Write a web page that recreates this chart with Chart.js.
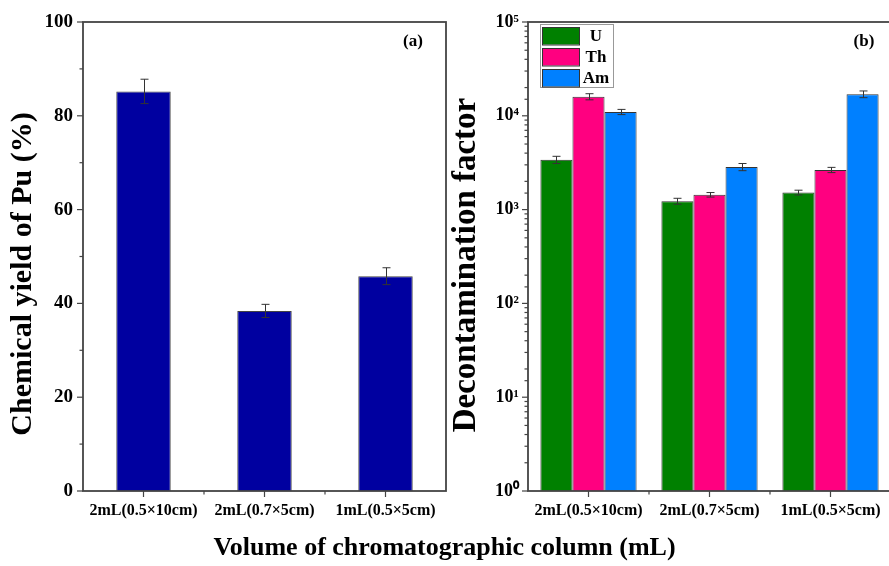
<!DOCTYPE html>
<html>
<head>
<meta charset="utf-8">
<script src="https://cdn.jsdelivr.net/npm/chart.js@4.4.1/dist/chart.umd.min.js"></script>
<style>
  html, body { margin: 0; padding: 0; background: #fff; overflow: hidden; }
  body { width: 889px; height: 566px; position: relative; }
  #left { position: absolute; left: 0; top: 0; }
  #right { position: absolute; left: 440px; top: 0; }
  #xtitle {
    position: absolute; left: 0; width: 889px; top: 532px; text-align: center;
    font: bold 26px "Liberation Serif", "Times New Roman", serif; color: #000;
  }
</style>
</head>
<body>
<canvas id="left" width="450" height="566"></canvas>
<canvas id="right" width="455" height="566"></canvas>
<div id="xtitle">Volume of chromatographic column (mL)</div>
<script>
const categories = ['2mL(0.5×10cm)', '2mL(0.7×5cm)', '1mL(0.5×5cm)'];

// panel (a): chemical yield of Pu (%)
const yieldPu = [85.2, 38.4, 45.8];
const yieldPuErr = [2.6, 1.4, 1.8];

// panel (b): decontamination factors
const dfU = [3400, 1230, 1520];
const dfUErr = [300, 90, 90];
const dfTh = [16000, 1440, 2650];
const dfThErr = [1200, 80, 170];
const dfAm = [11000, 2850, 17000];
const dfAmErr = [700, 250, 1400];

const logTickLabels = ['10⁰', '10¹', '10²', '10³', '10⁴', '10⁵'];

const serif = '"Liberation Serif", "Times New Roman", serif';
const axisColor = '#444';

function line(ctx, x1, y1, x2, y2) {
  ctx.beginPath(); ctx.moveTo(x1, y1); ctx.lineTo(x2, y2); ctx.stroke();
}

// frame, tick marks, error bars, axis title, panel label and legend
const framePlugin = {
  id: 'frame',
  afterDatasetsDraw(chart, args, opts) {
    const { ctx, chartArea: a, scales: { x, y } } = chart;
    ctx.save();

    // error bars
    ctx.strokeStyle = '#333';
    ctx.lineWidth = 1;
    chart.data.datasets.forEach((ds, i) => {
      chart.getDatasetMeta(i).data.forEach((bar, j) => {
        const v = ds.data[j], e = ds.errors[j];
        const top = y.getPixelForValue(v + e), bot = y.getPixelForValue(v - e);
        const cx = Math.round(bar.x) + 0.5;
        line(ctx, cx, top, cx, bot);
        line(ctx, cx - 4, top, cx + 4, top);
        line(ctx, cx - 4, bot, cx + 4, bot);
      });
    });

    // frame
    ctx.strokeStyle = axisColor;
    ctx.lineWidth = 1.8;
    ctx.strokeRect(a.left, a.top, a.right - a.left, a.bottom - a.top);

    // y ticks
    ctx.lineWidth = 1.2;
    y.ticks.forEach(t => {
      const py = y.getPixelForValue(t.value);
      const len = opts.isMajor(t.value) ? 6 : 3.5;
      line(ctx, a.left - len, py, a.left, py);
    });

    // x ticks
    x.ticks.forEach((t, i) => {
      const px = x.getPixelForTick(i);
      line(ctx, px, a.bottom, px, a.bottom + 6);
      if (i > 0) {
        const pb = (px + x.getPixelForTick(i - 1)) / 2;
        line(ctx, pb, a.bottom, pb, a.bottom + 3.5);
      }
    });

    ctx.fillStyle = '#000';
    ctx.textAlign = 'center';
    ctx.textBaseline = 'middle';

    // y axis title
    ctx.save();
    ctx.translate(opts.titleX, opts.titleY);
    ctx.rotate(-Math.PI / 2);
    ctx.font = 'bold ' + opts.titleSize + 'px ' + serif;
    ctx.fillText(opts.title, 0, 0);
    ctx.restore();

    // panel label
    ctx.font = 'bold 17px ' + serif;
    ctx.fillText(opts.panel, a.right - opts.panelDx, a.top + 20);

    // legend
    if (opts.legend) {
      const lx = a.left + 12, ly = a.top + 2;
      ctx.fillStyle = '#fff';
      ctx.fillRect(lx, ly, 73, 63);
      ctx.strokeStyle = '#999';
      ctx.lineWidth = 1;
      ctx.strokeRect(lx + 0.5, ly + 0.5, 73, 63);
      chart.data.datasets.forEach((ds, i) => {
        const sy = ly + 3 + i * 21;
        ctx.fillStyle = ds.backgroundColor;
        ctx.fillRect(lx + 2, sy, 37, 17.5);
        ctx.strokeStyle = '#333';
        ctx.strokeRect(lx + 2.5, sy + 0.5, 37, 17.5);
        ctx.fillStyle = '#000';
        ctx.font = 'bold 17px ' + serif;
        ctx.fillText(ds.label, lx + 56, sy + 9.5);
      });
    }
    ctx.restore();
  }
};

const xScale = {
  type: 'category',
  grid: { display: false, drawTicks: false },
  border: { display: false },
  ticks: {
    color: '#000', font: { family: serif, size: 16, weight: 'bold' },
    padding: 10, maxRotation: 0, autoSkip: false
  },
  afterFit: s => { s.height = 75; }
};

new Chart(document.getElementById('left'), {
  type: 'bar',
  data: {
    labels: categories,
    datasets: [{
      label: 'Pu',
      data: yieldPu,
      errors: yieldPuErr,
      backgroundColor: '#0000A0',
      borderColor: '#444',
      borderWidth: 1,
      categoryPercentage: 0.45,
      barPercentage: 1
    }]
  },
  options: {
    responsive: false,
    animation: false,
    layout: { padding: { top: 22, right: 4, left: 0, bottom: 0 } },
    plugins: {
      legend: { display: false },
      tooltip: { enabled: false },
      frame: {
        panel: '(a)', panelDx: 33, legend: false, isMajor: v => v % 20 === 0,
        title: 'Chemical yield of Pu (%)', titleSize: 30, titleX: 23.5, titleY: 274
      }
    },
    scales: {
      x: xScale,
      y: {
        min: 0, max: 100,
        grid: { display: false, drawTicks: false },
        border: { display: false },
        ticks: {
          stepSize: 10, autoSkip: false, padding: 10, color: '#000',
          font: { family: serif, size: 19, weight: 'bold' },
          callback: v => (v % 20 === 0 ? v : '')
        },
        afterFit: s => { s.width = 83; }
      }
    }
  },
  plugins: [framePlugin]
});

const isPow10 = v => {
  const e = Math.round(Math.log10(v));
  return Math.abs(Math.pow(10, e) - v) < 1e-9 ? e : -1;
};

new Chart(document.getElementById('right'), {
  type: 'bar',
  data: {
    labels: categories,
    datasets: [
      { label: 'U', data: dfU, errors: dfUErr, backgroundColor: '#008000' },
      { label: 'Th', data: dfTh, errors: dfThErr, backgroundColor: '#FF0080' },
      { label: 'Am', data: dfAm, errors: dfAmErr, backgroundColor: '#0080FF' }
    ].map(d => Object.assign(d, {
      borderColor: '#333', borderWidth: 1, categoryPercentage: 0.795, barPercentage: 1
    }))
  },
  options: {
    responsive: false,
    animation: false,
    layout: { padding: { top: 22, right: 4, left: 0, bottom: 0 } },
    plugins: {
      legend: { display: false },
      tooltip: { enabled: false },
      frame: {
        panel: '(b)', panelDx: 27, legend: true, isMajor: v => isPow10(v) >= 0,
        title: 'Decontamination factor', titleSize: 33, titleX: 26, titleY: 265
      }
    },
    scales: {
      x: xScale,
      y: {
        type: 'logarithmic',
        min: 1, max: 100000,
        grid: { display: false, drawTicks: false },
        border: { display: false },
        ticks: {
          autoSkip: false, padding: 9, color: '#000',
          font: { family: serif, size: 18, weight: 'bold' },
          callback: v => {
            const e = isPow10(v);
            return e >= 0 ? logTickLabels[e] : '';
          }
        },
        afterFit: s => { s.width = 88; }
      }
    }
  },
  plugins: [framePlugin]
});
</script>
</body>
</html>
